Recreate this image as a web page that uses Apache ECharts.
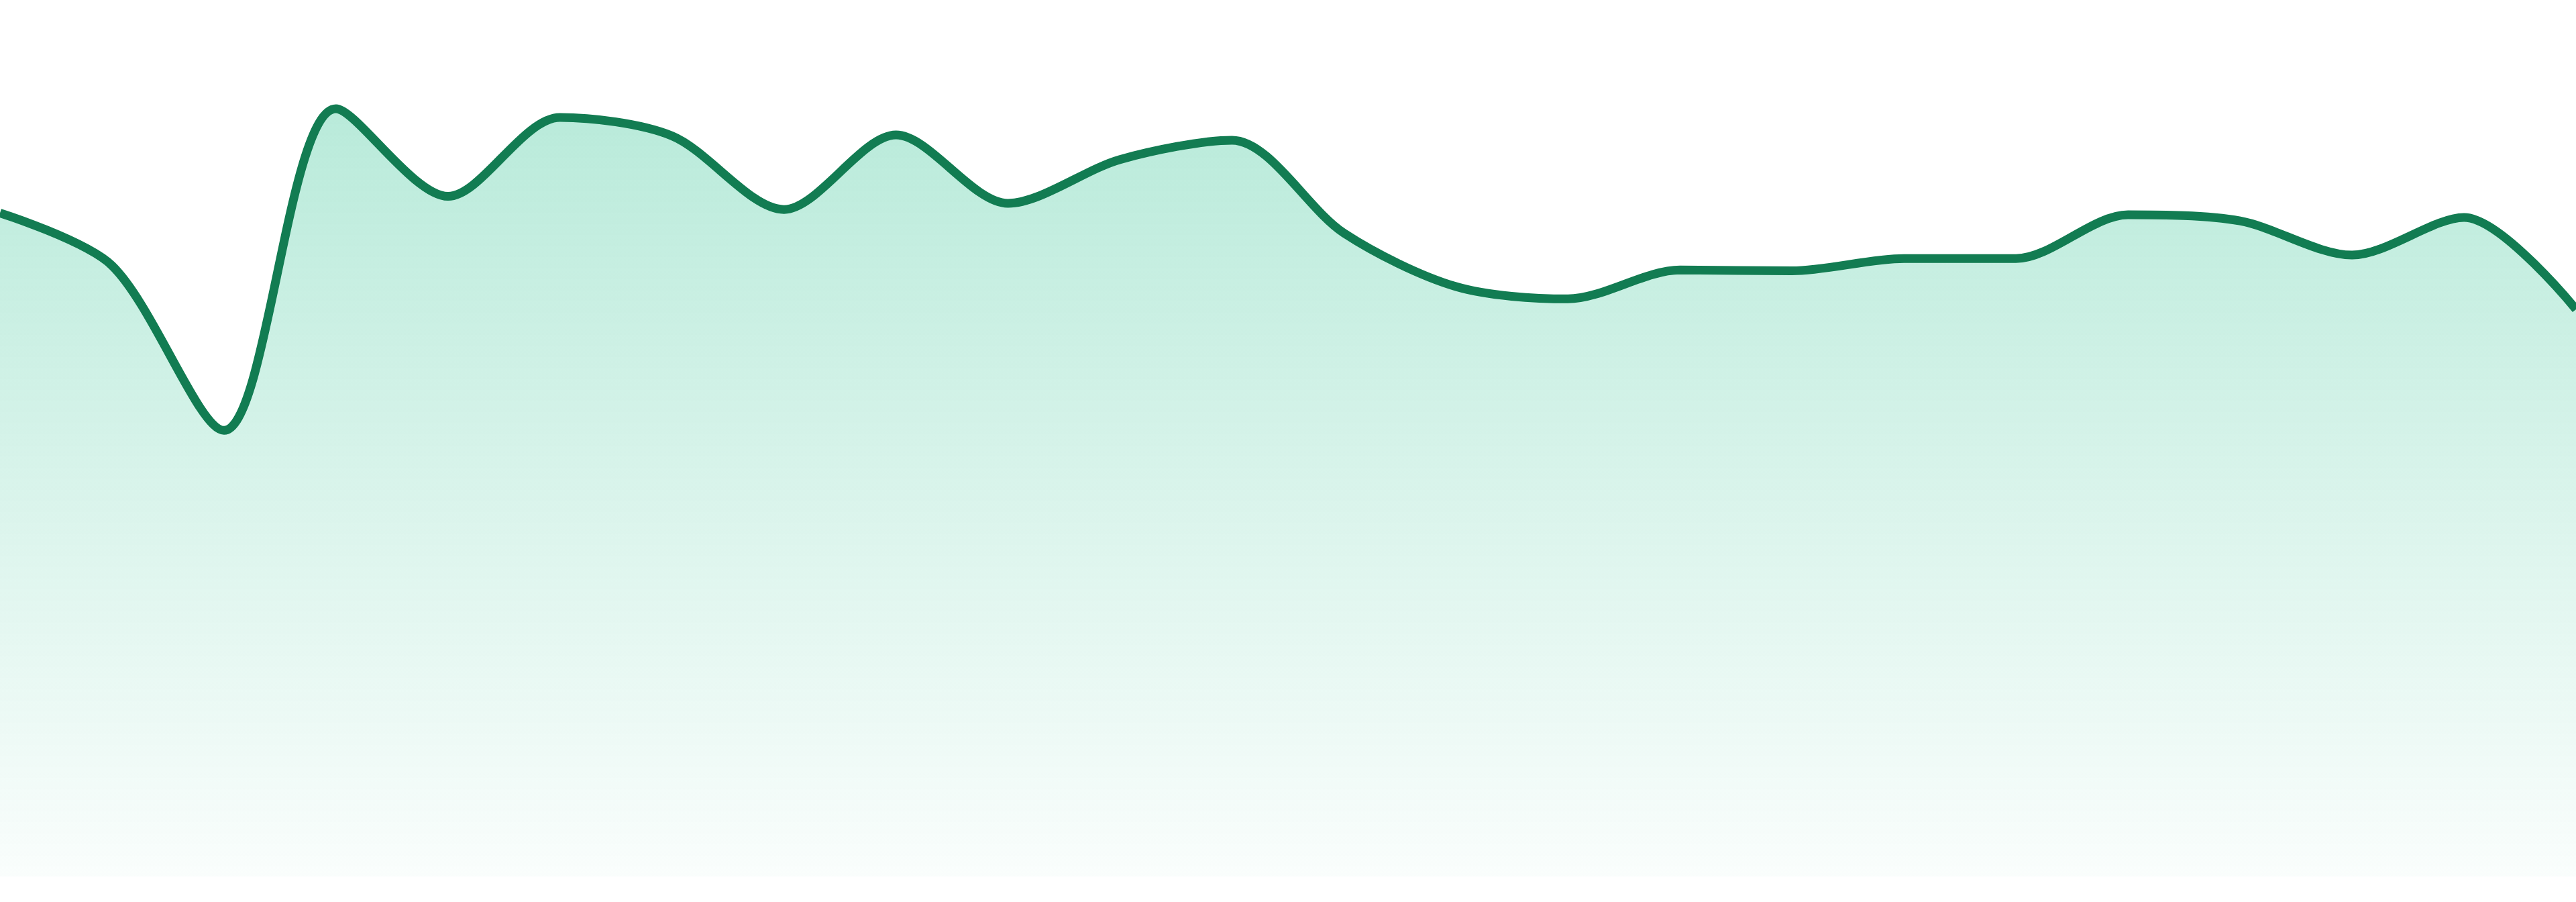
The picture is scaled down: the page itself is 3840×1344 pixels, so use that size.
<!DOCTYPE html>
<html>
<head>
<meta charset="utf-8">
<style>
  html, body { margin: 0; padding: 0; background: #ffffff; }
  #container { width: 3840px; height: 1344px; }
</style>
<script src="https://cdn.jsdelivr.net/npm/echarts@6/dist/echarts.min.js"></script>
</head>
<body>
<div id="container"></div>
<script>
var categories = ['1', '2', '3', '4', '5', '6', '7', '8', '9', '10', '11', '12',
                  '13', '14', '15', '16', '17', '18', '19', '20', '21', '22', '23', '24'];
var values = [75.7, 69.7, 50.9, 87.6, 77.6, 86.6, 84.5, 76.1, 84.6, 76.8, 81.8, 84.0,
              73.4, 67.3, 65.9, 69.2, 69.1, 70.5, 70.5, 75.5, 74.8, 70.9, 75.2, 64.7];

var myChart = echarts.init(document.getElementById('container'));

var option = {
  animation: false,
  grid: {
    left: 0,
    right: 0,
    top: 0,
    bottom: 38
  },
  xAxis: {
    type: 'category',
    data: categories,
    boundaryGap: false,
    show: false
  },
  yAxis: {
    type: 'value',
    min: 0,
    max: 100,
    show: false
  },
  series: [{
    type: 'line',
    data: values,
    smooth: 0.3,
    showSymbol: false,
    lineStyle: {
      color: '#127c52',
      width: 13
    },
    areaStyle: {
      color: new echarts.graphic.LinearGradient(0, 0, 0, 1, [
        { offset: 0, color: 'rgba(16, 185, 129, 0.42)' },
        { offset: 1, color: 'rgba(16, 185, 129, 0.03)' }
      ])
    }
  }]
};

myChart.setOption(option);
</script>
</body>
</html>
